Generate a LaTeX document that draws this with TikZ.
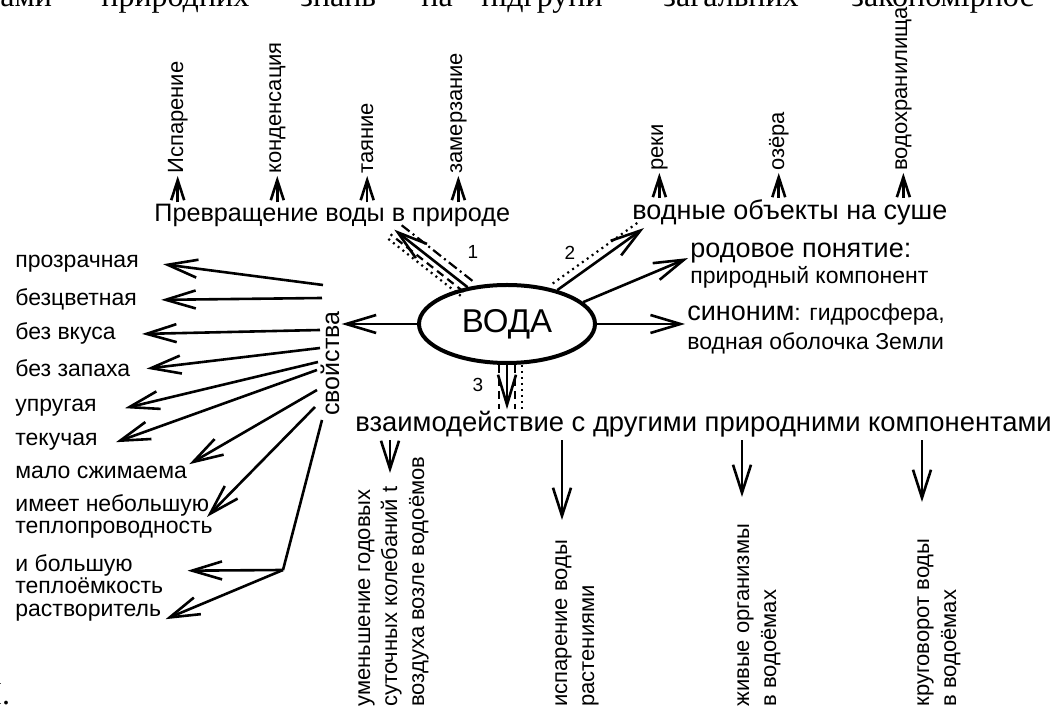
\documentclass[tikz,border=0pt]{standalone}
\usepackage{fontspec}
\setmainfont{Liberation Sans}
\newfontfamily\pageserif{Liberation Serif}
\usetikzlibrary{
    arrows.meta,
    calc,
    positioning,
    shapes.geometric
}
\tikzset{
    % Text styles
    page text/.style={
        font=\pageserif\fontsize{16}{18}\selectfont,
        inner sep=0pt,
        anchor=base west
    },
    concept text/.style={
        font=\fontsize{13.5}{15}\selectfont,
        inner sep=1pt,
        anchor=base west
    },
    side text/.style={
        font=\fontsize{11}{13.5}\selectfont,
        rotate=90,
        inner sep=1pt,
        anchor=base west,
        align=left
    },
    prop text/.style={
        font=\fontsize{11.5}{11}\selectfont,
        inner sep=1pt,
        anchor=base west,
        align=left
    },
    num text/.style={
        font=\fontsize{9.5}{10}\selectfont,
        inner sep=0pt
    },
    water box/.style={
        draw,
        ellipse,
        line width=2pt,
        minimum width=88pt,
        minimum height=39pt,
        inner sep=0pt,
        font=\fontsize{16.5}{18}\selectfont
    },
    % Arrow styles
    link arrow/.style={
        -{Straight Barb[length=15pt,width=9pt]},
        line width=1.3pt
    },
    up arrow/.style={
        -{Straight Barb[length=10pt,width=6.5pt]},
        line width=1.3pt
    },
    down arrow/.style={
        -{Straight Barb[length=14pt,width=9pt]},
        line width=1.3pt
    },
    dash line/.style={
        line width=1.1pt,
        dash pattern=on 4pt off 2.5pt
    },
    dot line/.style={
        line width=1.1pt,
        dash pattern=on 1pt off 2pt
    },
    dashdot line/.style={
        line width=1.1pt,
        dash pattern=on 5pt off 2pt on 1pt off 2pt
    }
}

\begin{document}
\begin{tikzpicture}[x=0.5pt, y=-0.5pt]
        \useasboundingbox (0,0) rectangle (1056,710);

        % Page text around the scheme
        \foreach \i/\x/\word in {0/0/ами,1/101/природних,2/300/знань,3/421/на,4/481/підгрупи,5/663/загальних,6/851/закономірнос} {
            \node[page text] (page\i) at (\x,7) {\word};
        }
        \node[page text] (pageend) at (-9,705) {І.};

        % Central concept and groups
        \node[water box] (water) at (507,324) {ВОДА};
        \node[concept text, font=\fontsize{12.6}{15}\selectfont] (change) at (152,222) {Превращение воды в природе};
        \node[concept text] (objects) at (630,220) {водные объекты на суше};
        \node[concept text, align=left, font=\fontsize{11.5}{13}\selectfont] (genus) at (688,284)
            {{\fontsize{13.5}{13}\selectfont родовое понятие:}\\природный компонент};
        \node[concept text, align=left, font=\fontsize{11.5}{14.5}\selectfont] (synonym) at (685,350)
            {{\fontsize{13.5}{14.5}\selectfont синоним}: гидросфера,\\водная оболочка Земли};
        \node[concept text, font=\fontsize{13.7}{15}\selectfont] (links) at (353,432) {взаимодействие с другими природними компонентами};
        \node[concept text, rotate=90, font=\fontsize{12.5}{14}\selectfont] (props) at (339,418) {свойства};

        % Forms of water in nature
        \foreach \i/\x/\word in {1/183/Испарение,2/281/конденсация,3/373/таяние,4/462/замерзание} {
            \node[side text] (change\i) at (\x,176) {\word};
            \draw[up arrow] (change\i.west |- change.north) -- (change\i.west);
        }

        % Water objects on land
        \foreach \i/\x/\word in {1/663/реки,2/784/озёра,3/907/водохранилища} {
            \node[side text] (object\i) at (\x,173) {\word};
            \draw[up arrow] (object\i.west |- objects.north) -- (object\i.west);
        }

        % Interaction with other components
        \foreach \i/\x/\ax/\ty/\words in {1/424/390/473/{уменьшение годовых\\суточных колебаний t\\воздуха возле водоёмов},
                2/594/562/520/{испарение воды\\растениями},
                3/776/742/497/{живые организмы\\в водоёмах},
                4/956/922/502/{круговорот воды\\в водоёмах}} {
            \node[side text] (result\i) at (\x,709) {\words};
            \coordinate (tip\i) at (\ax,\ty);
            \draw[down arrow] (tip\i |- links.south) -- (tip\i);
        }

        % Properties
        \foreach \i/\y/\words in {1/268/прозрачная,2/306/безцветная,3/340/без вкуса,4/377/без запаха,
                5/412/упругая,6/446/текучая,7/479/мало сжимаема,8/534/{имеет небольшую\\теплопроводность},
                9/594/{и большую\\теплоёмкость},10/617/растворитель} {
            \node[prop text] (prop\i) at (13,\y) {\words};
        }
        \coordinate (s1) at (323,285);
        \coordinate (s2) at (322,298);
        \coordinate (s3) at (320,330);
        \coordinate (s4) at (320,348);
        \coordinate (s5) at (318,362);
        \coordinate (s6) at (317,370);
        \coordinate (s7) at (317,390);
        \coordinate (s8) at (315,407);
        \coordinate (s9) at (322,420);
        \coordinate (bend) at (283,570);
        \foreach \i/\dx in {1/11,2/11,3/12,4/7,5/13,6/8} {
            \draw[link arrow] (s\i) -- ([xshift=\dx pt]prop\i.east);
        }
        \draw[link arrow] (s7) -- (prop7.north east);
        \draw[link arrow] (s8) -- ([xshift=-4pt]prop8.east);
        \draw[line width=1.3pt] (s9) -- (bend);
        \draw[link arrow] (bend) -- ([shift={(11pt,2pt)}]prop9.east);
        \draw[link arrow] (bend) -- ([shift={(1pt,-3pt)}]prop10.east);

        % Connections from the centre
        \draw[link arrow] (water.west) -- (water.west -| props.south);
        \draw[link arrow] (water.east) -- (water.east -| synonym.west);
        \draw[link arrow] (water.16) -- ([yshift=-8.5pt]genus.north west);

        % 1: changes of water
        \coordinate (a1) at (water.137);
        \coordinate (b1) at ([xshift=31pt]change.south);
        \draw[link arrow] (a1) -- (b1);
        \draw[dash line] ($(a1)!3pt!90:(b1)$) -- ($(b1)!3pt!-90:(a1)$);
        \draw[dot line] ($(a1)!5.5pt!90:(b1)$) -- ($(b1)!5.5pt!-90:(a1)$);
        \draw[dashdot line] ($(a1)!4pt!-90:(b1)$) -- ($(b1)!4pt!90:(a1)$);
        \node[num text] (num1) at (473,252) {1};

        % 2: water objects
        \coordinate (a2) at (water.34);
        \coordinate (b2) at ([xshift=7pt]objects.south west);
        \draw[link arrow] (a2) -- (b2);
        \draw[dot line] ($(a2)!4pt!90:(b2)$) -- ($(b2)!4pt!-90:(a2)$);
        \node[num text] (num2) at (570,253) {2};

        % 3: interaction
        \coordinate (a3) at (water.south);
        \coordinate (b3) at (links.north -| water.south);
        \draw[link arrow] (a3) -- (b3);
        \draw[dash line] ([xshift=-4pt]a3) -- ([xshift=-4pt]b3);
        \draw[dash line] ([xshift=4pt]a3) -- ([xshift=4pt]b3);
        \draw[dot line] ([xshift=7.5pt]a3) -- ([xshift=7.5pt]b3);
        \node[num text] (num3) at (478,385) {3};
\end{tikzpicture}
\end{document}
